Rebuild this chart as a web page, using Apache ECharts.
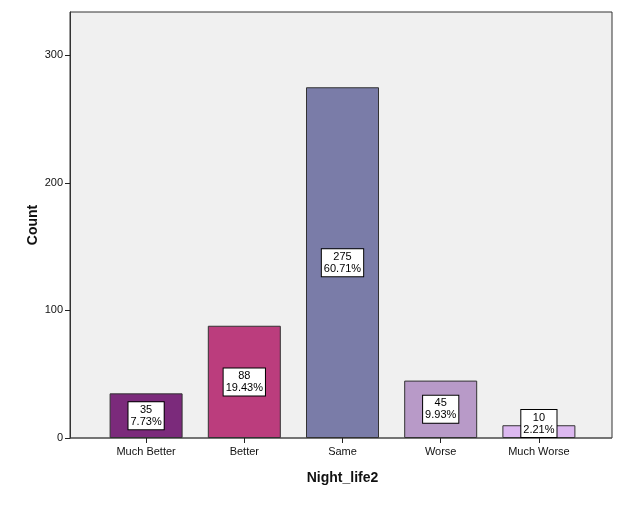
<!DOCTYPE html>
<html><head><meta charset="utf-8">
<script src="https://cdn.jsdelivr.net/npm/echarts@6/dist/echarts.min.js"></script>
<style>html,body{margin:0;padding:0;background:#fff}#c{width:631px;height:506px}</style>
</head><body><div id="c"></div>
<script>
const categories = ["Much Better", "Better", "Same", "Worse", "Much Worse"];
const counts = [35, 88, 275, 45, 10];
const percents = ["7.73%", "19.43%", "60.71%", "9.93%", "2.21%"];
const barColors = ["#7b2a7b", "#bb3d7d", "#7a7ca8", "#b89ac8", "#dcb8f0"];
const yTicks = [0, 100, 200, 300];

const yMax = 334;
const font = "Liberation Sans, Arial, sans-serif";
const chart = echarts.init(document.getElementById('c'));
chart.setOption({
  animation: false,
  grid: [
    {left: 70, right: 19, top: 12, bottom: 68, show: true, backgroundColor: '#f0f0f0', borderColor: '#333', borderWidth: 1},
    {left: 97, right: 43, top: 12, bottom: 68}
  ],
  xAxis: [
    {gridIndex: 0, type: 'value', show: false, min: 0, max: 1},
    {gridIndex: 1, type: 'category', data: categories,
     axisLine: {show: false},
     axisTick: {show: true, alignWithLabel: true, length: 5, lineStyle: {color: '#222'}},
     axisLabel: {color: '#111', fontFamily: font, fontSize: 11, margin: 8},
     name: 'Night_life2', nameLocation: 'middle', nameGap: 33,
     nameTextStyle: {fontFamily: font, fontSize: 14, fontWeight: 'bold', color: '#111'}}
  ],
  yAxis: [
    {gridIndex: 0, type: 'value', min: 0, max: yMax,
     axisLine: {show: true, lineStyle: {color: '#333'}},
     axisTick: {show: true, length: 5, customValues: yTicks, lineStyle: {color: '#222'}},
     splitLine: {show: false},
     axisLabel: {color: '#111', fontFamily: font, fontSize: 11, margin: 7, customValues: yTicks},
     name: 'Count', nameLocation: 'middle', nameGap: 30, nameMoveOverlap: false,
     nameTextStyle: {fontFamily: font, fontSize: 14, fontWeight: 'bold', color: '#111'}},
    {gridIndex: 1, type: 'value', min: 0, max: yMax, show: false}
  ],
  series: [{
    type: 'bar', xAxisIndex: 1, yAxisIndex: 1,
    barWidth: 73,
    data: counts.map((v, i) => {
      const d = {value: v, itemStyle: {color: barColors[i]}};
      if (i === 4) d.label = {offset: [0, -8]};
      return d;
    }),
    itemStyle: {borderColor: '#333', borderWidth: 1},
    label: {show: true, position: 'inside',
      formatter: p => p.value + '\n' + percents[p.dataIndex],
      backgroundColor: '#fff', borderColor: '#000', borderWidth: 1,
      padding: [2, 2, 1, 2], color: '#000', fontFamily: font, fontSize: 11, lineHeight: 12}
  }],
  graphic: [{type: 'line', shape: {x1: 70, y1: 438, x2: 612, y2: 438}, style: {stroke: '#555', lineWidth: 1}}]
});
</script></body></html>
